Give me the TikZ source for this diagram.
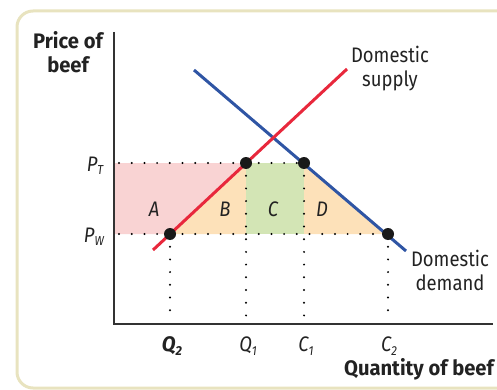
\documentclass[tikz,border=0pt]{standalone}
\usepackage{fontspec}
\setmainfont{Fira Sans}[FakeStretch=0.88, BoldFeatures={FakeStretch=0.96}, BoldItalicFeatures={FakeStretch=0.96}]
\definecolor{supplyred}{HTML}{E8283C}
\definecolor{demandblue}{HTML}{2F55A4}
\definecolor{areaA}{HTML}{F9D3D3}
\definecolor{areaB}{HTML}{FDE1B9}
\definecolor{areaC}{HTML}{D3E5B5}
\definecolor{framecol}{HTML}{E8E3BF}
\definecolor{axiscol}{HTML}{333333}
\definecolor{textcol}{HTML}{222222}
\newcommand{\lowsub}[1]{\raisebox{-3.5pt}{\fontsize{13}{13}\selectfont #1}}
\begin{document}
\begin{tikzpicture}[x=1pt,y=-1pt,
  lbl/.style={inner sep=0pt, font=\fontsize{21}{24}\selectfont, text=textcol},
  ital/.style={lbl, font=\fontsize{21}{24}\selectfont\itshape},
  dotline/.style={line width=2.2pt, line cap=round, dash pattern=on 0pt off 12.7pt},
  curve/.style={line width=3pt},
  eqdot/.style={circle, fill=black!90, minimum size=12pt, inner sep=0pt}]
\useasboundingbox (0,0) rectangle (497,390);
\clip (0,0) rectangle (497,390);
\draw[framecol, line width=3pt, rounded corners=16pt] (17,11) rectangle (530,388);
% coordinates
\coordinate (O) at (114,324);
\coordinate (Ytop) at (114,32);
\coordinate (Xend) at (493,324);
\coordinate (PTd) at (119,163);
\coordinate (PWd) at (119,234);
\coordinate (PT) at (114,163);
\coordinate (PW) at (114,234);
\coordinate (Q2) at (170,234);
\coordinate (Q1) at (246,163);
\coordinate (C1) at (304,163);
\coordinate (C2) at (388,234);
\coordinate (Q1w) at (246,234);
\coordinate (C1w) at (304,234);
\coordinate (Q2b) at (170,318);
\coordinate (Q1b) at (246,318);
\coordinate (C1b) at (304,318);
\coordinate (C2b) at (388,318);
\coordinate (s0) at (153,250);
\coordinate (s1) at (347,69);
\coordinate (d0) at (194,70);
\coordinate (d1) at (406,251);
% areas
\fill[areaA] (PT) -- (Q1) -- (Q2) -- (PW) -- cycle;
\fill[areaB] (Q2) -- (Q1) -- (Q1w) -- cycle;
\fill[areaC] (Q1) -- (C1) -- (C1w) -- (Q1w) -- cycle;
\fill[areaB] (C1) -- (C2) -- (C1w) -- cycle;
% dotted lines
\draw[dotline] (PTd) -- (C1);
\draw[dotline] (PWd) -- (C2);
\draw[dotline] (Q2) -- (Q2b);
\draw[dotline] (Q1) -- (Q1b);
\draw[dotline] (C1) -- (C1b);
\draw[dotline] (C2) -- (C2b);
% curves
\draw[curve, demandblue] (d0) -- (d1);
\draw[curve, supplyred] (s0) -- (s1);
% axes
\draw[axiscol, line width=1.6pt] (Ytop) -- (O) -- (Xend);
% equilibrium dots
\node[eqdot] (nQ2) at (Q2) {};
\node[eqdot] (nQ1) at (Q1) {};
\node[eqdot] (nC1) at (C1) {};
\node[eqdot] (nC2) at (C2) {};
% labels
\node[lbl, align=center, font=\fontsize{21}{24}\selectfont\bfseries] (ylab) at (68,52) {Price of\\beef};
\node[lbl, align=center] (slab) at (390,69) {Domestic\\supply};
\node[lbl, align=center] (dlab) at (450,270) {Domestic\\demand};
\node[lbl, anchor=east, font=\fontsize{21}{24}\selectfont\bfseries] (xlab) at (494,369) {Quantity of beef};
\node[ital] (lPT) at (95,166) {P\lowsub{T}};
\node[ital] (lPW) at (94,237) {P\lowsub{W}};
\node[ital] (lA) at (154,209) {A};
\node[ital] (lB) at (225,209) {B};
\node[ital] (lC) at (273,209) {C};
\node[ital] (lD) at (322,209) {D};
\node[ital, font=\fontsize{21}{24}\selectfont\bfseries\itshape] (lQ2) at (172,346) {Q\lowsub{2}};
\node[ital] (lQ1) at (248,346) {Q\lowsub{1}};
\node[ital] (lC1) at (306,346) {C\lowsub{1}};
\node[ital] (lC2) at (389,346) {C\lowsub{2}};
\end{tikzpicture}
\end{document}
